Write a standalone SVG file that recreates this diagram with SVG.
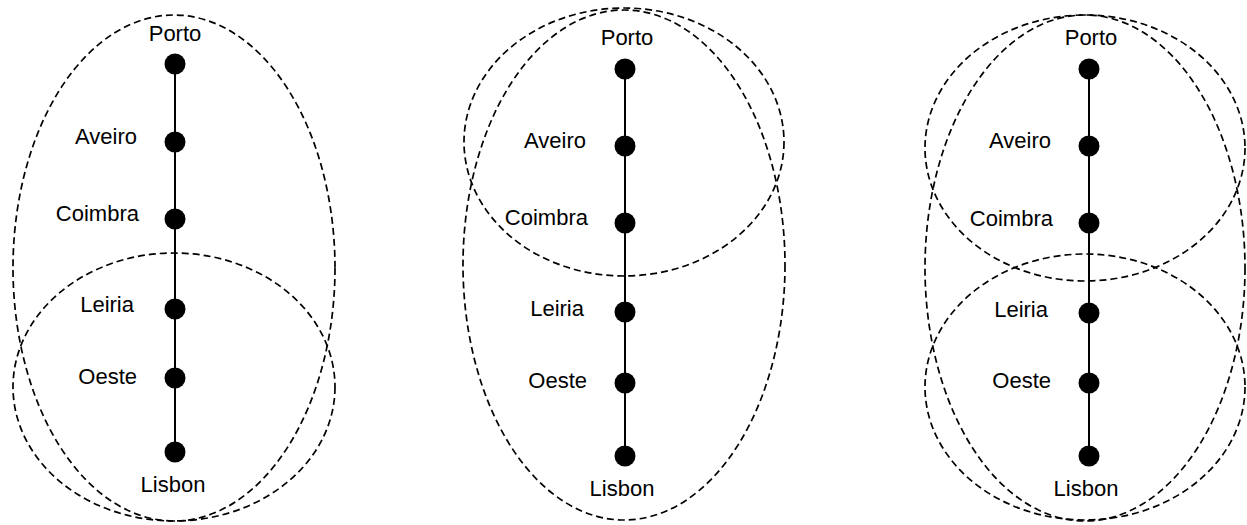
<svg xmlns="http://www.w3.org/2000/svg" width="1247" height="525" viewBox="0 0 1247 525">
<style>
.bg{fill:#fff}
.reg{fill:none;stroke:#000;stroke-width:1.7;stroke-dasharray:7 4}
.edge{stroke:#000;stroke-width:2;fill:none}
.dot{fill:#000}
.lbl{font-family:"Liberation Sans",Arial,sans-serif;font-size:22px;fill:#000}
.e{text-anchor:end}
.m{text-anchor:middle}
</style>
<defs>
<circle id="n" r="10.5" class="dot"/>
</defs>
<rect class="bg" width="1247" height="525"/>

<g id="regions">
<ellipse class="reg" cx="174" cy="268" rx="161" ry="253"/>
<ellipse class="reg" cx="174" cy="387" rx="161" ry="134"/>
<ellipse class="reg" cx="624" cy="265" rx="161" ry="255"/>
<ellipse class="reg" cx="624" cy="142" rx="160" ry="134"/>
<ellipse class="reg" cx="1085" cy="268" rx="160" ry="253"/>
<ellipse class="reg" cx="1085" cy="148" rx="160" ry="133"/>
<ellipse class="reg" cx="1085" cy="387" rx="160" ry="133"/>
</g>

<g id="connectors">
<line class="edge" x1="175" y1="64" x2="175" y2="452"/>
<line class="edge" x1="625" y1="69" x2="625" y2="456"/>
<line class="edge" x1="1089" y1="69" x2="1089" y2="456"/>
</g>

<g id="panel1">
<g id="p1-porto"><use href="#n" x="175" y="64"/><text class="lbl m" x="175" y="41">Porto</text></g>
<g id="p1-aveiro"><use href="#n" x="175" y="142"/><text class="lbl e" x="137" y="144">Aveiro</text></g>
<g id="p1-coimbra"><use href="#n" x="175" y="219"/><text class="lbl e" x="139" y="221">Coimbra</text></g>
<g id="p1-leiria"><use href="#n" x="175" y="309"/><text class="lbl e" x="134" y="312">Leiria</text></g>
<g id="p1-oeste"><use href="#n" x="175" y="378"/><text class="lbl e" x="137" y="384">Oeste</text></g>
<g id="p1-lisbon"><use href="#n" x="175" y="452"/><text class="lbl m" x="173" y="492">Lisbon</text></g>
</g>

<g id="panel2">
<g id="p2-porto"><use href="#n" x="625" y="69"/><text class="lbl m" x="627" y="45">Porto</text></g>
<g id="p2-aveiro"><use href="#n" x="625" y="146"/><text class="lbl e" x="586" y="148">Aveiro</text></g>
<g id="p2-coimbra"><use href="#n" x="625" y="223"/><text class="lbl e" x="588" y="225">Coimbra</text></g>
<g id="p2-leiria"><use href="#n" x="625" y="312"/><text class="lbl e" x="584" y="316">Leiria</text></g>
<g id="p2-oeste"><use href="#n" x="625" y="383"/><text class="lbl e" x="587" y="388">Oeste</text></g>
<g id="p2-lisbon"><use href="#n" x="625" y="456"/><text class="lbl m" x="622" y="496">Lisbon</text></g>
</g>

<g id="panel3">
<g id="p3-porto"><use href="#n" x="1089" y="69"/><text class="lbl m" x="1091" y="45">Porto</text></g>
<g id="p3-aveiro"><use href="#n" x="1089" y="146"/><text class="lbl e" x="1051" y="148">Aveiro</text></g>
<g id="p3-coimbra"><use href="#n" x="1089" y="223"/><text class="lbl e" x="1053" y="226">Coimbra</text></g>
<g id="p3-leiria"><use href="#n" x="1089" y="313"/><text class="lbl e" x="1048" y="317">Leiria</text></g>
<g id="p3-oeste"><use href="#n" x="1089" y="383"/><text class="lbl e" x="1051" y="388">Oeste</text></g>
<g id="p3-lisbon"><use href="#n" x="1089" y="456"/><text class="lbl m" x="1086" y="496">Lisbon</text></g>
</g>
</svg>
